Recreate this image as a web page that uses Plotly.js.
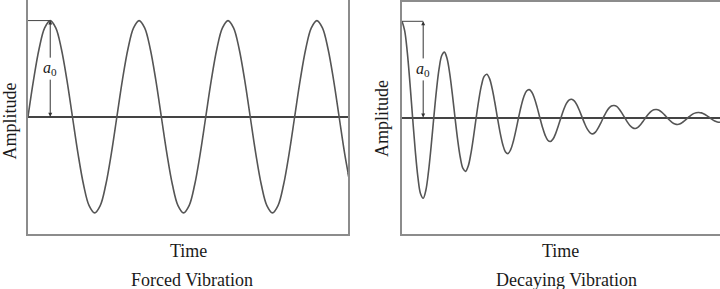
<!DOCTYPE html>
<html>
<head>
<meta charset="utf-8">
<script src="https://cdn.plot.ly/plotly-3.0.1.min.js"></script>
<style>html,body{margin:0;padding:0;background:#fff;}#chart{width:720px;height:289px;}</style>
</head>
<body>
<div id="chart"></div>
<script>
// Sampling step of both curves (in periods), 16 samples per period
const timeStep = 0.0625;

// Forced vibration amplitude (units of a0), one sample per timeStep, then the end value at t = 3.6
const forcedAmp = [
  0, 0.383, 0.707, 0.924, 1, 0.924, 0.707, 0.383, 0, -0.383, -0.707, -0.924, -1, -0.924, -0.707, -0.383,
  0, 0.383, 0.707, 0.924, 1, 0.924, 0.707, 0.383, 0, -0.383, -0.707, -0.924, -1, -0.924, -0.707, -0.383,
  0, 0.383, 0.707, 0.924, 1, 0.924, 0.707, 0.383, 0, -0.383, -0.707, -0.924, -1, -0.924, -0.707, -0.383,
  0, 0.383, 0.707, 0.924, 1, 0.924, 0.707, 0.383, 0, -0.383, -0.707];
const forcedEnd = {t: 3.6, a: -0.588};

// Decaying vibration amplitude (units of a0), one sample per timeStep from t = 0 to 7.5
const decayAmp = [
  1, 0.904, 0.677, 0.358, 0, -0.343, -0.620, -0.793,
  -0.84, -0.756, -0.563, -0.297, 0, 0.282, 0.507, 0.645,
  0.68, 0.613, 0.458, 0.242, 0, -0.231, -0.416, -0.530,
  -0.56, -0.504, -0.375, -0.198, 0, 0.187, 0.336, 0.427,
  0.45, 0.407, 0.304, 0.161, 0, -0.154, -0.278, -0.355,
  -0.375, -0.335, -0.249, -0.131, 0, 0.122, 0.218, 0.276,
  0.29, 0.263, 0.197, 0.105, 0, -0.101, -0.183, -0.236,
  -0.25, -0.224, -0.165, -0.086, 0, 0.080, 0.144, 0.181,
  0.19, 0.173, 0.131, 0.070, 0, -0.068, -0.124, -0.159,
  -0.17, -0.152, -0.111, -0.058, 0, 0.054, 0.095, 0.120,
  0.125, 0.115, 0.086, 0.046, 0, -0.046, -0.083, -0.107,
  -0.115, -0.102, -0.075, -0.039, 0, 0.036, 0.064, 0.080,
  0.083, 0.076, 0.057, 0.030, 0, -0.029, -0.053, -0.068,
  -0.073, -0.065, -0.047, -0.025, 0, 0.023, 0.040, 0.050,
  0.052, 0.048, 0.036, 0.020, 0, -0.020, -0.036, -0.046,
  -0.05];

const panelTitles = ["Forced Vibration", "Decaying Vibration"];
const xLabel = "Time";
const yLabel = "Amplitude";
const a0Label = "<i>a</i><sub>0</sub>";

// time axes built from the sampling step
const forcedTime = forcedAmp.map((_, i) => i * timeStep).concat([forcedEnd.t]);
const forcedVals = forcedAmp.concat([forcedEnd.a]);

// a0 marker positions, taken from the data
const fPeakA = Math.max(...forcedAmp);
const fPeakT = forcedAmp.indexOf(fPeakA) * timeStep;
const dPeakA = decayAmp[0];
const dTroughT = decayAmp.indexOf(Math.min(...decayAmp)) * timeStep;

const curveStyle = {color: '#555', width: 1.6, shape: 'spline', smoothing: 1};
const traces = [
  {x: forcedTime, y: forcedVals, xaxis: 'x', yaxis: 'y', mode: 'lines', line: curveStyle, hoverinfo: 'skip'},
  {y: decayAmp, x0: 0, dx: timeStep, xaxis: 'x2', yaxis: 'y2', mode: 'lines', line: curveStyle, hoverinfo: 'skip'}
];

const frameColor = '#8c8c8c';
const axBase = {showgrid: false, showticklabels: false, ticks: '', zeroline: false,
  showline: true, linecolor: frameColor, linewidth: 2, mirror: true, fixedrange: true};
const yBase = Object.assign({}, axBase, {zeroline: true, zerolinecolor: '#444', zerolinewidth: 2});

const serif = {family: 'Liberation Serif, Times New Roman, serif', color: '#1a1a1a'};
const f18 = Object.assign({}, serif, {size: 18});
const fA0 = Object.assign({}, serif, {size: 16});
const fA0hidden = Object.assign({}, serif, {size: 16, color: 'rgba(0,0,0,0)'});

function px(x) { return x / 720; }
function py(y) { return 1 - y / 289; }

function a0Arrows(xr, yr, t, top) {
  const common = {xref: xr, yref: yr, axref: xr, ayref: yr, x: t, ax: t, ay: 0.5, text: a0Label,
    showarrow: true, arrowhead: 2, arrowsize: 0.8, arrowwidth: 1, arrowcolor: '#333', standoff: 0};
  return [
    Object.assign({}, common, {y: top, font: fA0}),
    Object.assign({}, common, {y: 0, font: fA0hidden})
  ];
}

const layout = {
  width: 720, height: 289,
  margin: {l: 0, r: 0, t: 0, b: 0},
  paper_bgcolor: '#fff', plot_bgcolor: '#fff',
  showlegend: false,
  xaxis: Object.assign({}, axBase, {domain: [px(28), px(348)], range: [0, forcedEnd.t], anchor: 'y'}),
  yaxis: Object.assign({}, yBase, {domain: [py(233.5), 1], range: [-1.214, 1.214], anchor: 'x'}),
  xaxis2: Object.assign({}, axBase, {domain: [px(402), 1], range: [0, (decayAmp.length - 1) * timeStep], anchor: 'y2'}),
  yaxis2: Object.assign({}, yBase, {domain: [py(233.5), py(1.5)], range: [-1.206, 1.206], anchor: 'x2', mirror: false}),
  shapes: [
    {type: 'line', xref: 'x', yref: 'y', x0: 0, x1: fPeakT, y0: fPeakA, y1: fPeakA, line: {color: '#444', width: 1}},
    {type: 'line', xref: 'x2', yref: 'y2', x0: 0, x1: dTroughT, y0: dPeakA, y1: dPeakA, line: {color: '#444', width: 1}}
  ],
  annotations: [].concat(
    a0Arrows('x', 'y', fPeakT, fPeakA),
    a0Arrows('x2', 'y2', dTroughT, dPeakA),
    [
      {xref: 'paper', yref: 'paper', x: px(9.5), y: py(121), text: yLabel, textangle: -90, showarrow: false,
        font: f18, xanchor: 'center', yanchor: 'middle'},
      {xref: 'paper', yref: 'paper', x: px(382), y: py(119), text: yLabel, textangle: -90, showarrow: false,
        font: f18, xanchor: 'center', yanchor: 'middle'},
      {xref: 'paper', yref: 'paper', x: px(188), y: py(251), text: xLabel, showarrow: false,
        font: f18, xanchor: 'center', yanchor: 'middle'},
      {xref: 'paper', yref: 'paper', x: px(560), y: py(251), text: xLabel, showarrow: false,
        font: f18, xanchor: 'center', yanchor: 'middle'},
      {xref: 'paper', yref: 'paper', x: px(192), y: py(280), text: panelTitles[0], showarrow: false,
        font: f18, xanchor: 'center', yanchor: 'middle'},
      {xref: 'paper', yref: 'paper', x: px(566), y: py(280), text: panelTitles[1], showarrow: false,
        font: f18, xanchor: 'center', yanchor: 'middle'}
    ])
};

Plotly.newPlot('chart', traces, layout, {staticPlot: true, displayModeBar: false});
</script>
</body>
</html>
